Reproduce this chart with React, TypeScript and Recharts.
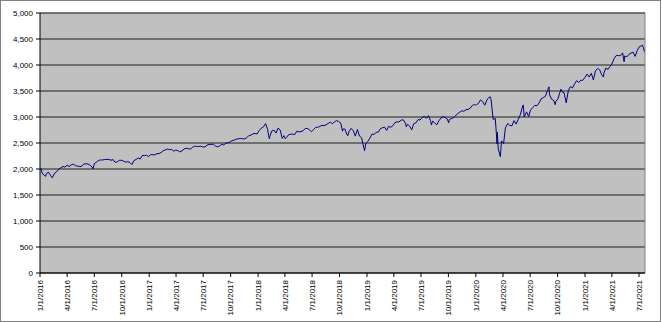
import { LineChart, Line, XAxis, YAxis, CartesianGrid, ReferenceLine } from 'recharts'

// S&P 500 closes (month/day, value)
const s2016: [string, number][] = [
  ['1/4', 2013], ['1/8', 1922], ['1/15', 1880], ['1/20', 1859], ['1/22', 1907], ['1/29', 1940],
  ['2/5', 1880], ['2/11', 1829], ['2/19', 1918], ['2/26', 1948], ['3/4', 2000], ['3/11', 2022],
  ['3/18', 2050], ['3/24', 2035], ['4/1', 2073], ['4/8', 2048], ['4/15', 2081], ['4/22', 2092],
  ['4/29', 2065], ['5/6', 2057], ['5/13', 2047], ['5/20', 2052], ['5/27', 2099], ['6/3', 2099],
  ['6/10', 2096], ['6/17', 2071], ['6/24', 2037], ['6/27', 2001], ['7/1', 2103], ['7/8', 2130],
  ['7/15', 2162], ['7/22', 2175], ['7/29', 2173], ['8/5', 2183], ['8/12', 2184], ['8/19', 2184],
  ['8/26', 2169], ['9/2', 2180], ['9/9', 2128], ['9/16', 2139], ['9/23', 2165], ['9/30', 2168],
  ['10/7', 2153], ['10/14', 2133], ['10/21', 2141], ['10/28', 2126], ['11/4', 2085], ['11/11', 2164],
  ['11/18', 2182], ['11/25', 2213], ['12/2', 2192], ['12/9', 2260], ['12/16', 2258], ['12/23', 2263],
  ['12/30', 2239],
]

const s2017: [string, number][] = [
  ['1/6', 2277], ['1/13', 2275], ['1/20', 2271], ['1/27', 2295], ['2/3', 2297], ['2/10', 2316],
  ['2/17', 2351], ['2/24', 2367], ['3/3', 2383], ['3/10', 2373], ['3/17', 2378], ['3/24', 2344],
  ['3/31', 2363], ['4/7', 2355], ['4/13', 2329], ['4/21', 2349], ['4/28', 2384], ['5/5', 2399],
  ['5/12', 2391], ['5/19', 2382], ['5/26', 2416], ['6/2', 2439], ['6/9', 2432], ['6/16', 2433],
  ['6/23', 2438], ['6/30', 2423], ['7/7', 2425], ['7/14', 2459], ['7/21', 2473], ['7/28', 2472],
  ['8/4', 2477], ['8/11', 2441], ['8/18', 2426], ['8/25', 2443], ['9/1', 2477], ['9/8', 2461],
  ['9/15', 2500], ['9/22', 2502], ['9/29', 2519], ['10/6', 2549], ['10/13', 2553], ['10/20', 2575],
  ['10/27', 2581], ['11/3', 2588], ['11/10', 2582], ['11/17', 2579], ['11/24', 2602], ['12/1', 2642],
  ['12/8', 2652], ['12/15', 2676], ['12/22', 2683], ['12/29', 2674],
]

const s2018: [string, number][] = [
  ['1/5', 2743], ['1/12', 2786], ['1/19', 2810], ['1/26', 2873], ['2/2', 2762], ['2/5', 2649],
  ['2/8', 2581], ['2/9', 2620], ['2/16', 2732], ['2/23', 2747], ['3/2', 2691], ['3/9', 2786],
  ['3/16', 2752], ['3/23', 2588], ['3/29', 2641], ['4/2', 2582], ['4/6', 2604], ['4/13', 2656],
  ['4/20', 2670], ['4/27', 2670], ['5/4', 2663], ['5/11', 2728], ['5/18', 2712], ['5/25', 2721],
  ['6/1', 2735], ['6/8', 2779], ['6/15', 2780], ['6/22', 2755], ['6/29', 2718], ['7/6', 2760],
  ['7/13', 2801], ['7/20', 2802], ['7/27', 2819], ['8/3', 2840], ['8/10', 2833], ['8/17', 2850],
  ['8/24', 2875], ['8/31', 2902], ['9/7', 2872], ['9/14', 2905], ['9/21', 2930], ['9/28', 2914],
  ['10/5', 2886], ['10/11', 2728], ['10/12', 2767], ['10/19', 2768], ['10/26', 2658], ['10/29', 2641],
  ['11/2', 2723], ['11/9', 2781], ['11/16', 2736], ['11/23', 2633], ['11/30', 2760], ['12/7', 2633],
  ['12/14', 2600], ['12/21', 2417], ['12/24', 2351], ['12/28', 2486], ['12/31', 2507],
]

const s2019: [string, number][] = [
  ['1/4', 2532], ['1/11', 2596], ['1/18', 2671], ['1/25', 2665], ['2/1', 2707], ['2/8', 2708],
  ['2/15', 2776], ['2/22', 2793], ['3/1', 2804], ['3/8', 2743], ['3/15', 2822], ['3/22', 2801],
  ['3/29', 2834], ['4/5', 2893], ['4/12', 2907], ['4/18', 2905], ['4/26', 2940], ['5/3', 2946],
  ['5/10', 2881], ['5/13', 2812], ['5/17', 2860], ['5/24', 2826], ['5/31', 2752], ['6/7', 2873],
  ['6/14', 2887], ['6/21', 2950], ['6/28', 2942], ['7/5', 2990], ['7/12', 3014], ['7/19', 2977],
  ['7/26', 3026], ['8/2', 2932], ['8/5', 2845], ['8/9', 2919], ['8/16', 2889], ['8/23', 2847],
  ['8/30', 2926], ['9/6', 2979], ['9/13', 3007], ['9/20', 2992], ['9/27', 2962], ['10/2', 2888],
  ['10/4', 2952], ['10/11', 2970], ['10/18', 2986], ['10/25', 3023], ['11/1', 3067], ['11/8', 3093],
  ['11/15', 3120], ['11/22', 3110], ['11/29', 3141], ['12/6', 3146], ['12/13', 3169], ['12/20', 3221],
  ['12/27', 3240], ['12/31', 3231],
]

const s2020: [string, number][] = [
  ['1/3', 3235], ['1/10', 3265], ['1/17', 3330], ['1/24', 3295], ['1/31', 3226], ['2/7', 3328],
  ['2/14', 3380], ['2/19', 3386], ['2/21', 3338], ['2/28', 2954], ['3/6', 2972], ['3/9', 2747],
  ['3/12', 2481], ['3/13', 2711], ['3/16', 2386], ['3/20', 2305], ['3/23', 2237], ['3/27', 2541],
  ['4/3', 2489], ['4/9', 2790], ['4/17', 2875], ['4/24', 2837], ['5/1', 2831], ['5/8', 2930],
  ['5/15', 2864], ['5/22', 2955], ['5/29', 3044], ['6/5', 3194], ['6/8', 3232], ['6/11', 3002],
  ['6/19', 3098], ['6/26', 3009], ['7/2', 3130], ['7/10', 3185], ['7/17', 3225], ['7/24', 3216],
  ['7/31', 3271], ['8/7', 3351], ['8/14', 3373], ['8/21', 3397], ['8/28', 3508], ['9/2', 3580],
  ['9/4', 3427], ['9/11', 3341], ['9/18', 3319], ['9/23', 3237], ['9/25', 3298], ['10/2', 3348],
  ['10/9', 3477], ['10/12', 3535], ['10/16', 3483], ['10/23', 3465], ['10/30', 3270], ['11/6', 3509],
  ['11/13', 3585], ['11/20', 3558], ['11/27', 3638], ['12/4', 3699], ['12/11', 3663], ['12/18', 3709],
  ['12/24', 3703], ['12/31', 3756],
]

const s2021: [string, number][] = [
  ['1/8', 3825], ['1/15', 3768], ['1/22', 3841], ['1/29', 3714], ['2/5', 3887], ['2/12', 3934],
  ['2/19', 3907], ['2/26', 3811], ['3/4', 3768], ['3/5', 3842], ['3/12', 3943], ['3/19', 3913],
  ['3/26', 3975], ['4/1', 4020], ['4/9', 4129], ['4/16', 4185], ['4/23', 4180], ['4/30', 4181],
  ['5/7', 4233], ['5/12', 4063], ['5/14', 4174], ['5/21', 4156], ['5/28', 4204], ['6/4', 4230],
  ['6/11', 4247], ['6/18', 4166], ['6/25', 4281], ['7/2', 4352], ['7/9', 4370], ['7/12', 4385],
  ['7/16', 4327], ['7/19', 4258],
]

const xTickLabels = [
  '1/1/2016', '4/1/2016', '7/1/2016', '10/1/2016', '1/1/2017', '4/1/2017', '7/1/2017', '10/1/2017',
  '1/1/2018', '4/1/2018', '7/1/2018', '10/1/2018', '1/1/2019', '4/1/2019', '7/1/2019', '10/1/2019',
  '1/1/2020', '4/1/2020', '7/1/2020', '10/1/2020', '1/1/2021', '4/1/2021', '7/1/2021',
]
const yTicks = [0, 500, 1000, 1500, 2000, 2500, 3000, 3500, 4000, 4500, 5000]
const xStart = '1/1/2016'
const xEnd = '7/21/2021'

const toTime = (s: string) => {
  const [m, d, y] = s.split('/').map(Number)
  return Date.UTC(y, m - 1, d)
}

const fmtDate = (t: number) => {
  const d = new Date(t)
  return `${d.getUTCMonth() + 1}/${d.getUTCDate()}/${d.getUTCFullYear()}`
}

const years: [number, [string, number][]][] = [
  [2016, s2016], [2017, s2017], [2018, s2018], [2019, s2019], [2020, s2020], [2021, s2021],
]

const data = years.flatMap(([yr, rows]) =>
  rows.map(([md, v]) => ({ t: toTime(`${md}/${yr}`), close: v }))
)

const font = '"Liberation Sans", Arial, sans-serif'

function DateTick(props: any) {
  const { x, y, payload } = props
  return (
    <g transform={`translate(${x},${y})`}>
      <text transform="rotate(-90)" textAnchor="end" dy="0.35em" fontSize={8} fill="#000" fontFamily={font}>
        {fmtDate(payload.value)}
      </text>
    </g>
  )
}

export default function App() {
  const t0 = toTime(xStart)
  const t1 = toTime(xEnd)
  return (
    <div style={{ position: 'absolute', left: 0, top: 0, width: 662, height: 322, background: '#fff', fontFamily: font }}>
      <LineChart width={662} height={322} data={data} margin={{ top: 13, right: 17, bottom: 0, left: 0 }}>
        <CartesianGrid vertical={false} fill="#c0c0c0" fillOpacity={1} stroke="#1e1e1e" />
        <XAxis
          dataKey="t"
          type="number"
          scale="time"
          domain={[t0, t1]}
          ticks={xTickLabels.map(toTime)}
          interval={0}
          height={49}
          tickSize={4}
          tickMargin={3}
          stroke="#000"
          tick={<DateTick />}
          allowDataOverflow
        />
        <YAxis
          domain={[0, 5000]}
          ticks={yTicks}
          width={40}
          tickSize={4}
          tickMargin={3}
          stroke="#000"
          interval={0}
          tick={{ fontSize: 8, fill: '#000', fontFamily: font }}
          tickFormatter={(v: number) => v.toLocaleString('en-US')}
        />
        <ReferenceLine x={t1} stroke="#808080" />
        <ReferenceLine y={5000} stroke="#666" />
        <Line type="linear" dataKey="close" stroke="#000080" strokeWidth={1} dot={false} isAnimationActive={false} />
      </LineChart>
      <div style={{ position: 'absolute', left: 0, top: 0, width: 661, height: 322, border: '1px solid #808080', boxSizing: 'border-box', pointerEvents: 'none' }} />
    </div>
  )
}
